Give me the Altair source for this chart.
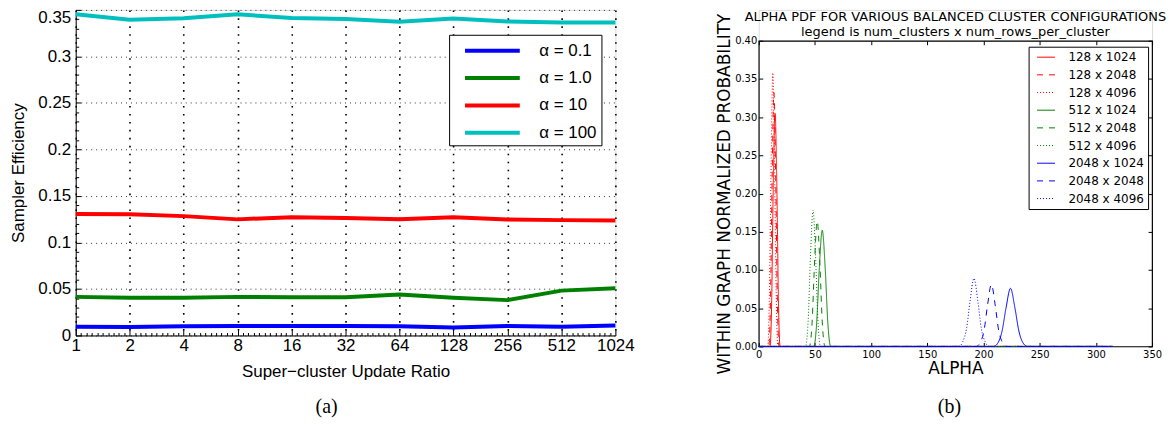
import altair as alt
import pandas as pd

# ---------------- panel (a) data ----------------
ratios = [1, 2, 4, 8, 16, 32, 64, 128, 256, 512, 1024]
eff_a01 = [0.0095, 0.0092, 0.0099, 0.0102, 0.0102, 0.0102, 0.0099, 0.0085, 0.0102, 0.0095, 0.0106]
eff_a1 = [0.0415, 0.0405, 0.0405, 0.0415, 0.0412, 0.0412, 0.0440, 0.0405, 0.0380, 0.0482, 0.0507]
eff_a10 = [0.1305, 0.1302, 0.1283, 0.1248, 0.1272, 0.1262, 0.1250, 0.1272, 0.1247, 0.1240, 0.1235]
eff_a100 = [0.3452, 0.3393, 0.3410, 0.3452, 0.3412, 0.3402, 0.3372, 0.3408, 0.3375, 0.3365, 0.3365]
alpha_labels = ["α = 0.1", "α = 1.0", "α = 10", "α = 100"]
alpha_colors = ["#0000ff", "#008000", "#ff0000", "#00bfbf"]

# ---------------- panel (b) data ----------------
title_lines = ["ALPHA PDF FOR VARIOUS BALANCED CLUSTER CONFIGURATIONS",
               "legend is num_clusters x num_rows_per_cluster"]
cfg_labels = ["128 x 1024", "128 x 2048", "128 x 4096",
              "512 x 1024", "512 x 2048", "512 x 4096",
              "2048 x 1024", "2048 x 2048", "2048 x 4096"]
cfg_colors = ["#ff0000", "#ff0000", "#ff0000",
              "#008000", "#008000", "#008000",
              "#0000ff", "#0000ff", "#0000ff"]
cfg_dashes = [[1, 0], [6, 6], [1, 2]] * 3

pdf_x = [
    [0, 10.0, 11.5, 12.8, 14.5, 16.2, 17.5, 19.0, 315],
    [0, 9.0, 10.5, 11.9, 13.5, 15.1, 16.5, 18.0, 315],
    [0, 8.0, 9.5, 11.0, 12.5, 14.0, 15.5, 17.0, 315],
    [0, 49.0, 51.5, 53.8, 56.5, 59.2, 61.5, 64.0, 315],
    [0, 45.0, 47.5, 49.6, 52.0, 54.4, 56.5, 59.0, 315],
    [0, 41.5, 44.0, 46.0, 48.3, 50.6, 52.6, 55.0, 315],
    [0, 209.0, 213.0, 216.5, 220.0, 224.0, 228.0, 231.5, 235.0, 239.0, 315],
    [0, 193.5, 197.0, 200.5, 203.5, 207.0, 210.5, 213.5, 217.0, 220.5, 315],
    [0, 178.0, 181.5, 185.0, 188.0, 191.5, 195.0, 198.0, 201.5, 205.0, 315],
]
pdf_y = [
    [0, 0, 0.060, 0.200, 0.305, 0.200, 0.060, 0, 0],
    [0, 0, 0.065, 0.220, 0.332, 0.220, 0.065, 0, 0],
    [0, 0, 0.070, 0.240, 0.358, 0.240, 0.070, 0, 0],
    [0, 0, 0.030, 0.100, 0.152, 0.100, 0.030, 0, 0],
    [0, 0, 0.032, 0.108, 0.164, 0.108, 0.032, 0, 0],
    [0, 0, 0.035, 0.117, 0.178, 0.117, 0.035, 0, 0],
    [0, 0, 0.005, 0.020, 0.050, 0.076, 0.050, 0.020, 0.005, 0, 0],
    [0, 0, 0.005, 0.021, 0.053, 0.081, 0.053, 0.021, 0.005, 0, 0],
    [0, 0, 0.006, 0.024, 0.059, 0.089, 0.059, 0.024, 0.006, 0, 0],
]
x_ticks_b = [0, 50, 100, 150, 200, 250, 300, 350]
y_ticks_b = [0.0, 0.05, 0.10, 0.15, 0.20, 0.25, 0.30, 0.35, 0.40]

# ---------------- build tables ----------------
rows_a = []
for lab, vals in zip(alpha_labels, [eff_a01, eff_a1, eff_a10, eff_a100]):
    for r, v in zip(ratios, vals):
        rows_a.append({"series": lab, "ratio": r, "eff": v})
df_a = pd.DataFrame(rows_a)

rows_b = []
for k, lab in enumerate(cfg_labels):
    for i, (xv, yv) in enumerate(zip(pdf_x[k], pdf_y[k])):
        rows_b.append({"cfg": lab, "i": i, "alpha": xv, "p": yv})
df_b = pd.DataFrame(rows_b)

# ---------------- axis tick helpers ----------------
x_ticks = sorted(set([2 ** (i / 10) for i in range(101)] + ratios))
MAJOR_X = "abs(datum.value - round(datum.value)) < 1e-6"
y_ticks = [round(i * 0.01, 2) for i in range(36)]
MAJOR_Y = "abs(datum.value * 20 - round(datum.value * 20)) < 1e-6"

FA = "Liberation Sans"
FB = "DejaVu Sans"
NB = "\u00a0"

chart_a = alt.Chart(df_a).mark_line(strokeWidth=4).encode(
    x=alt.X("ratio:Q",
            scale=alt.Scale(type="log", base=2, domain=[1, 1024], nice=False),
            axis=alt.Axis(values=x_ticks,
                          labelExpr=MAJOR_X + " ? format(datum.value, 'd') : ''",
                          title="Super\u2212cluster Update Ratio",
                          titleFont=FA, titleFontSize=17, titleFontWeight="normal",
                          titleColor="black", titlePadding=7,
                          labelFont=FA, labelFontSize=17, labelColor="black",
                          labelPadding=8, labelOverlap=False, labelFlush=False,
                          domainColor="black", domainWidth=1,
                          tickColor="black",
                          tickSize={"condition": {"test": MAJOR_X, "value": -6}, "value": -3},
                          grid=True, gridColor="black", gridWidth=1.6,
                          gridDash=[1.6, 6.4],
                          gridOpacity={"condition": {"test": MAJOR_X, "value": 1}, "value": 0})),
    y=alt.Y("eff:Q",
            scale=alt.Scale(domain=[0, 0.35], nice=False, zero=True),
            axis=alt.Axis(values=y_ticks,
                          labelExpr=MAJOR_Y + " ? format(datum.value, '~g') : ''",
                          labelBaseline={"condition": {"test": "datum.value > 0.345",
                                                       "value": "top"},
                                         "value": "middle"},
                          title="Sampler Efficiency",
                          titleFont=FA, titleFontSize=17, titleFontWeight="normal",
                          titleColor="black", titlePadding=10,
                          labelFont=FA, labelFontSize=17, labelColor="black",
                          labelPadding=10, labelOverlap=False, labelFlush=False,
                          domainColor="black", domainWidth=1,
                          tickColor="black",
                          tickSize={"condition": {"test": MAJOR_Y, "value": -5}, "value": -3},
                          grid=True, gridColor="#333333", gridWidth=1,
                          gridDash=[1, 4],
                          gridOpacity={"condition": {"test": MAJOR_Y, "value": 1}, "value": 0})),
    color=alt.Color("series:N",
                    scale=alt.Scale(domain=alpha_labels, range=alpha_colors),
                    legend=alt.Legend(title=None, orient="none", legendX=375, legendY=25,
                                      symbolType="M-2.75,0L2.75,0", symbolSize=400,
                                      symbolOffset=27.5,
                                      symbolStrokeWidth=4, labelFont=FA,
                                      labelFontSize=17, labelColor="black",
                                      labelExpr="datum.label + '" + NB * 8 + "'",
                                      labelOffset=35, rowPadding=7.5, padding=4,
                                      strokeColor="black", fillColor="white",
                                      labelLimit=300)),
).properties(width=542, height=327,
             title=alt.TitleParams("(a)", orient="bottom", font="Liberation Serif",
                                   fontSize=20, fontWeight="normal", color="black",
                                   offset=18, dx=-19))

legend_b = alt.Legend(title=None, orient="none", legendX=271, legendY=37,
                      symbolType="M-1.5,0L1.5,0", symbolSize=144, symbolOffset=7,
                      symbolStrokeWidth=1, labelFont=FB,
                      labelFontSize=12, labelColor="black",
                      labelExpr="datum.label + '" + NB + "'",
                      labelOffset=16, rowPadding=4.75, padding=4,
                      strokeColor="black", fillColor="white")

scale_xb = alt.Scale(domain=[0, 350], nice=False)
scale_yb = alt.Scale(domain=[0, 0.40], nice=False)

lines_b = alt.Chart(df_b).mark_line(strokeWidth=1, interpolate="monotone").encode(
    x=alt.X("alpha:Q", scale=scale_xb,
            axis=alt.Axis(values=x_ticks_b, title="ALPHA",
                          titleFont=FB, titleFontSize=17, titleFontWeight="normal",
                          titleColor="black", titlePadding=1,
                          labelFont=FB, labelFontSize=10, labelColor="black",
                          labelPadding=7, labelFlush=False,
                          domain=False, tickColor="black",
                          tickSize={"expr": "-4"}, grid=False)),
    y=alt.Y("p:Q", scale=scale_yb,
            axis=alt.Axis(values=y_ticks_b, format=".2f",
                          title="WITHIN GRAPH NORMALIZED PROBABILITY",
                          titleFont=FB, titleFontSize=17, titleFontWeight="normal",
                          titleColor="black", titlePadding=1,
                          labelFont=FB, labelFontSize=10, labelColor="black",
                          labelPadding=6, labelFlush=False,
                          domain=False, tickColor="black",
                          tickSize={"expr": "-4"}, grid=False)),
    color=alt.Color("cfg:N", scale=alt.Scale(domain=cfg_labels, range=cfg_colors),
                    legend=legend_b),
    strokeDash=alt.StrokeDash("cfg:N", scale=alt.Scale(domain=cfg_labels, range=cfg_dashes),
                              legend=legend_b),
    detail="cfg:N",
    order="i:Q",
)

# invisible layer carrying the inward ticks on the top and right frame edges
ghost_b = alt.Chart(df_b).mark_point(opacity=0).encode(
    x=alt.X("alpha:Q", scale=scale_xb,
            axis=alt.Axis(orient="top", values=x_ticks_b, labels=False, title=None,
                          domain=False, tickColor="black",
                          tickSize={"expr": "-4"}, grid=False)),
    y=alt.Y("p:Q", scale=scale_yb,
            axis=alt.Axis(orient="right", values=y_ticks_b, labels=False, title=None,
                          domain=False, tickColor="black",
                          tickSize={"expr": "-4"}, grid=False)),
)

base_b = alt.layer(lines_b, ghost_b).resolve_scale(
    x="independent", y="independent"
).properties(width=395, height=307,
             view=alt.ViewBackground(stroke="black", strokeWidth=1.2),
             title=alt.TitleParams("(b)", orient="bottom", font="Liberation Serif",
                                   fontSize=20, fontWeight="normal", color="black",
                                   offset=21, frame="group", dx=-6))

title_df = pd.DataFrame({"t": [title_lines[0]]})
sub_df = pd.DataFrame({"t": [title_lines[1]]})
t1 = alt.Chart(title_df).mark_text(font=FB, fontSize=13, color="black",
                                   align="center", baseline="middle").encode(
    text="t:N", x=alt.value(197.5), y=alt.value(7))
t2 = alt.Chart(sub_df).mark_text(font=FB, fontSize=13, color="black",
                                 align="center", baseline="middle").encode(
    text="t:N", x=alt.value(197.5), y=alt.value(22))
title_chart = alt.layer(t1, t2).properties(width=395, height=31)

chart_b = alt.vconcat(title_chart, base_b, spacing=0, bounds="flush")

legend_color_expr = ("indexof(datum.value, '128 ') == 0 ? '#ff0000' : "
                     "(indexof(datum.value, '512 ') == 0 ? '#008000' : '#0000ff')")

chart = alt.hconcat(chart_a, chart_b, spacing=80).resolve_scale(
    color="independent", strokeDash="independent"
).resolve_legend(color="independent", strokeDash="independent").properties(
    padding={"left": 1, "top": -4, "right": 0, "bottom": 0}
).configure_view(stroke=None).configure_legend(
    symbolBaseStrokeColor={"expr": legend_color_expr}
).configure(background="white")

chart.save("out.html", embed_options={"renderer": "svg", "actions": False})
